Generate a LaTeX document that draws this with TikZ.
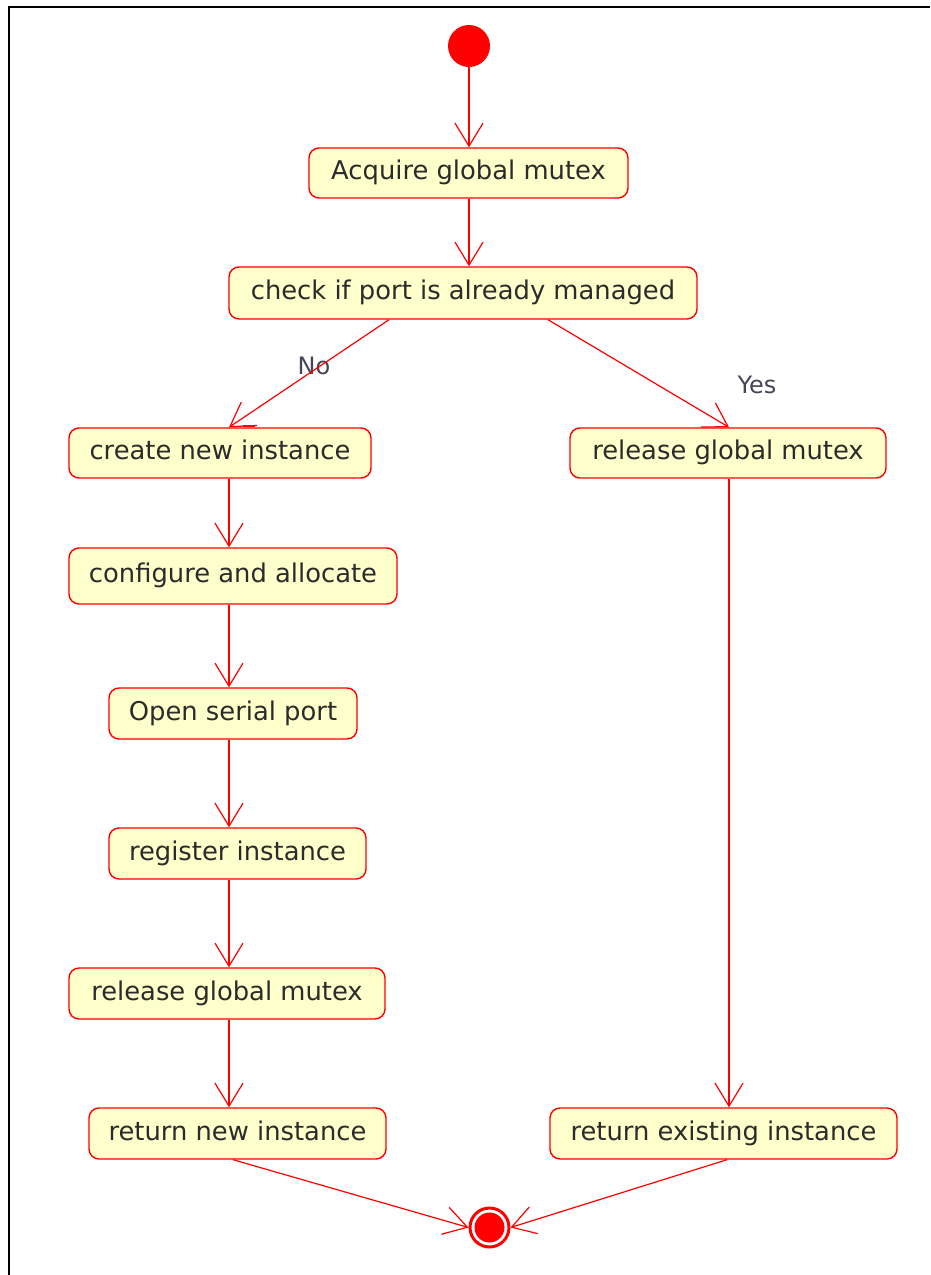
\documentclass[tikz,border=0pt]{standalone}
\usepackage{fontspec}
\setmainfont{DejaVu Sans}
\usetikzlibrary{arrows.meta}
\definecolor{actfill}{HTML}{FFFFCC}
\definecolor{actline}{HTML}{FF0000}
\definecolor{acttext}{HTML}{2B2B2B}
\definecolor{guardtext}{HTML}{454555}
\begin{document}
\begin{tikzpicture}[x=1pt,y=-1pt,
  act/.style={draw=actline, fill=actfill, line width=1.4pt, rounded corners=10pt,
    text=acttext, font=\fontsize{25.8}{30}\selectfont, inner sep=0pt,
    text height=19pt, text depth=6pt},
  flow/.style={draw=actline, line width=1.2pt,
    -{Straight Barb[length=23pt,width=28pt,line width=1.2pt]}},
  guard/.style={text=guardtext, font=\fontsize{24}{28}\selectfont, inner sep=0pt}]
  % canvas and frame
  \useasboundingbox (0,0) rectangle (930,1275);
  \fill[white] (0,0) rectangle (930,1275);
  \draw[black, line width=2pt] (9,1275) -- (9,7) -- (930,7);

  % column guides
  \coordinate (colL) at (229,0);
  \coordinate (colR) at (729,0);
  \coordinate (colM) at (469,0);
  \coordinate (noTop) at (389,0);
  \coordinate (yesTop) at (548,0);
  \coordinate (leftEnd) at (233,0);
  \coordinate (rightEnd) at (727,0);

  % initial and final nodes
  \node[circle, fill=actline, minimum size=42pt, inner sep=0pt] (start) at (469,46) {};
  \node[circle, draw=actline, line width=3pt, minimum size=39pt, inner sep=0pt] (stop) at (489.5,1227.5) {};
  \fill[actline] (stop.center) circle (15);

  % activities
  \node[act, minimum width=319pt, minimum height=50pt] (acq) at (468.5,173) {Acquire global mutex};
  \node[act, minimum width=468pt, minimum height=52pt] (check) at (463,293) {check if port is already managed};
  \node[act, minimum width=302pt, minimum height=50pt] (create) at (220,453) {create new instance};
  \node[act, minimum width=316pt, minimum height=50pt] (relR) at (728,453) {release global mutex};
  \node[act, minimum width=328pt, minimum height=56pt] (conf) at (233,576) {configure and allocate};
  \node[act, minimum width=248pt, minimum height=51pt] (open) at (233,713.5) {Open serial port};
  \node[act, minimum width=257pt, minimum height=51pt] (reg) at (237.5,853.5) {register instance};
  \node[act, minimum width=316pt, minimum height=51pt] (relL) at (227,993.5) {release global mutex};
  \node[act, minimum width=297pt, minimum height=51pt] (retN) at (237.5,1133.5) {return new instance};
  \node[act, minimum width=347pt, minimum height=51pt] (retE) at (723.5,1133.5) {return existing instance};

  % guards
  \node[guard] (no) at (314,366) {No};
  \node[guard] (yes) at (757,385) {Yes};

  % transitions
  \draw[flow] (start.south) -- (acq.north -| colM);
  \draw[flow] (acq.south -| colM) -- (check.north -| colM);
  \draw[flow] (check.south -| noTop) -- (create.north -| colL);
  \draw[flow] (check.south -| yesTop) -- (relR.north -| colR);
  \draw[flow] (create.south -| colL) -- (conf.north -| colL);
  \draw[flow] (conf.south -| colL) -- (open.north -| colL);
  \draw[flow] (open.south -| colL) -- (reg.north -| colL);
  \draw[flow] (reg.south -| colL) -- (relL.north -| colL);
  \draw[flow] (relL.south -| colL) -- (retN.north -| colL);
  \draw[flow] (relR.south -| colR) -- (retE.north -| colR);
  \draw[flow] (retN.south -| leftEnd) -- (stop.west);
  \draw[flow] (retE.south -| rightEnd) -- (stop.east);

  % small mark on the top edge of the new-instance box
  \draw[actline, line width=2.5pt] ([xshift=14pt,yshift=1.5pt]create.north -| colL) -- ([xshift=26pt,yshift=1.5pt]create.north -| colL);
\end{tikzpicture}
\end{document}
